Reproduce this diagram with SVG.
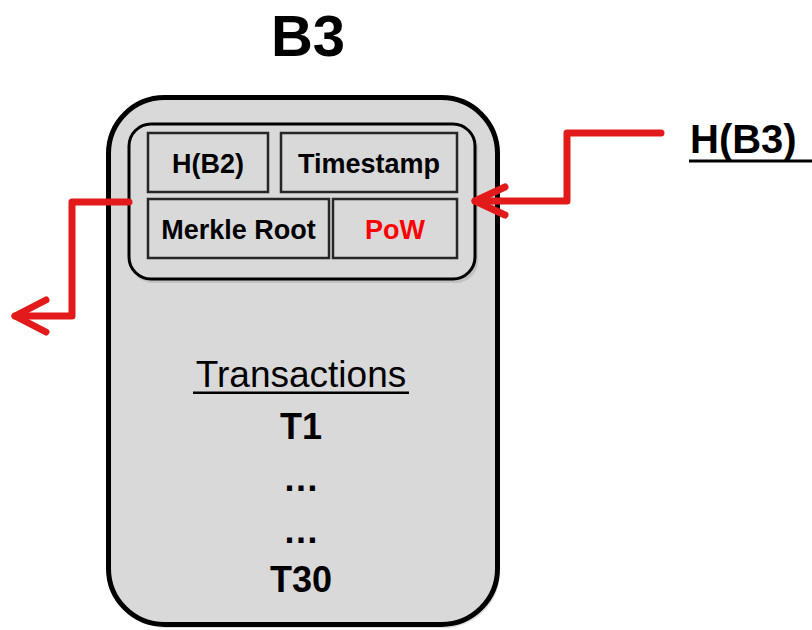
<svg xmlns="http://www.w3.org/2000/svg" width="812" height="630" viewBox="0 0 812 630">
<defs>
<style>
.b{font-family:"Liberation Sans",Arial,sans-serif;font-weight:bold;fill:#000}
.r{font-family:"Liberation Sans",Arial,sans-serif;fill:#000}
.cell{fill:#d9d9d9;stroke:#262626;stroke-width:2.5}
.arrow{fill:none;stroke:#e31a1c;stroke-width:7;stroke-linecap:round;stroke-linejoin:round}
</style>
</defs>
<rect width="812" height="630" fill="#fff"/>
<text class="b" x="308" y="56" font-size="58" text-anchor="middle">B3</text>
<g id="block">
<rect x="111" y="100" width="389" height="528" rx="56" fill="#bbb" opacity="0.5"/>
<rect x="108.5" y="97.5" width="389" height="527" rx="56" fill="#d9d9d9" stroke="#000" stroke-width="5"/>
</g>
<g id="header">
<rect x="131" y="126" width="347" height="157" rx="22" fill="#aaa" opacity="0.5"/>
<rect x="129" y="124" width="346" height="155" rx="22" fill="#d9d9d9" stroke="#000" stroke-width="3"/>
</g>
<g id="hb2">
<rect class="cell" x="148" y="133" width="120" height="59"/>
<text class="b" x="208" y="172.5" font-size="27" text-anchor="middle">H(B2)</text>
</g>
<g id="timestamp">
<rect class="cell" x="281" y="133" width="176" height="59"/>
<text class="b" x="369" y="172.5" font-size="27" text-anchor="middle">Timestamp</text>
</g>
<g id="merkle">
<rect class="cell" x="148" y="199" width="181" height="59"/>
<text class="b" x="238.5" y="238.5" font-size="27" text-anchor="middle">Merkle Root</text>
</g>
<g id="pow">
<rect class="cell" x="333" y="199" width="124" height="59"/>
<text class="b" x="395" y="238.5" font-size="27" text-anchor="middle" style="fill:#ff0000">PoW</text>
</g>
<g id="transactions">
<text class="r" x="301" y="387" font-size="37" text-anchor="middle">Transactions</text>
<rect x="193" y="391.5" width="216" height="2.5" fill="#000"/>
<text class="b" x="301" y="439" font-size="36" text-anchor="middle">T1</text>
<text class="b" x="301" y="491" font-size="36" text-anchor="middle">…</text>
<text class="b" x="301" y="543" font-size="36" text-anchor="middle">…</text>
<text class="b" x="301" y="592" font-size="36" text-anchor="middle">T30</text>
</g>
<g id="hb3">
<text class="b" x="690" y="153" font-size="40">H(B3)</text>
<rect x="689" y="159.5" width="123" height="3" fill="#000"/>
</g>
<g id="connectors">
<path class="arrow" d="M129 202 H72 V316 H15"/>
<path class="arrow" d="M46 300 L15 316 L46 332"/>
<path class="arrow" d="M661 133 H567 V201 H475"/>
<path class="arrow" d="M505 187 L475 201 L505 215"/>
</g>
</svg>
